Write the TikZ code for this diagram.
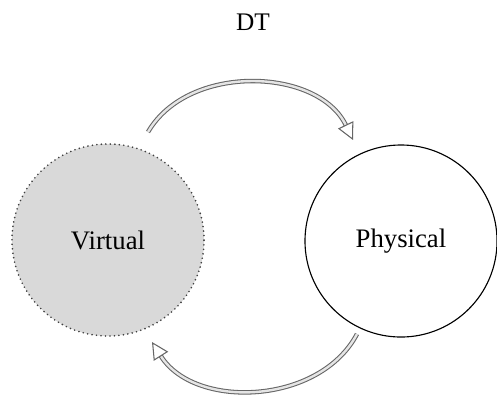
\documentclass[tikz,border=0pt]{standalone}
\usepackage{fontspec}
\setmainfont{Liberation Serif}
\usetikzlibrary{arrows.meta,positioning}

\begin{document}
\begin{tikzpicture}[
        x=0.025cm, y=-0.025cm,
        world/.style={circle, minimum size=4.8cm, inner sep=0pt, font=\fontsize{19}{22}\selectfont},
        virt/.style={world, fill=black!15, draw=black!75, line width=1.3pt, line cap=round, dash pattern=on 0pt off 3.2pt},
        phys/.style={world, draw=black, line width=0.8pt},
        twin/.style={draw=black!60, double=black!10, double distance=1.7pt, line width=0.75pt,
                     -{Triangle[open,length=12pt,width=12pt]}}
    ]
        \useasboundingbox (0,0) rectangle (497,396);
        \node[font=\fontsize{18}{21}\selectfont] (dt) at (253,22) {DT};
        \node[virt] (v) at (108,240) {Virtual};
        \node[phys] (p) at (401,241) {Physical};
        \coordinate (vout) at (148,132);
        \coordinate (pin) at (353,140);
        \coordinate (pout) at (357,334);
        \coordinate (vin) at (152,342);
        \draw[twin] (vout) to[bend left=62] (pin);
        \draw[twin] (pout) to[bend left=60] (vin);
    \end{tikzpicture}
\end{document}
